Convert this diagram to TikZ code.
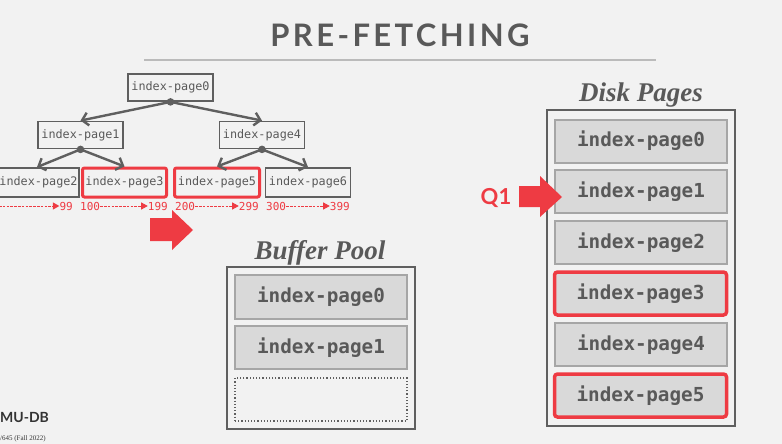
\documentclass[tikz,border=0pt]{standalone}
\usepackage{fontspec}
\setmainfont{Liberation Serif}
\newfontfamily\monof{DejaVu Sans Mono}
\newfontfamily\latof{Lato}
\newfontfamily\titlef[LetterSpace=11]{Lato}
\usetikzlibrary{arrows.meta}
\definecolor{bg}{HTML}{F2F2F2}
\definecolor{txt}{HTML}{595959}
\definecolor{edgec}{HTML}{5F5F5F}
\definecolor{hl}{HTML}{EE3B43}
\definecolor{slotfill}{HTML}{D9D9D9}
\definecolor{slotline}{HTML}{A6A6A6}
\definecolor{rulec}{HTML}{BBBBBB}
\tikzset{
  treebox/.style={draw=edgec, line width=1.8pt, fill=bg, minimum width=85pt, minimum height=27pt, inner sep=0pt,
    font=\monof\fontsize{11.8}{12}\selectfont, text=txt},
  treehl/.style={treebox, draw=hl, line width=3pt, rounded corners=2pt},
  treearrow/.style={draw=edgec, line width=2.4pt, -{Straight Barb[length=6pt,width=13pt,line width=2.4pt]}},
  rangetxt/.style={inner sep=0pt, text=hl, font=\monof\fontsize{11}{12}\selectfont},
  rangearrow/.style={draw=hl, line width=0.9pt, dash pattern=on 2.5pt off 1.3pt, -{Triangle[length=6.5pt,width=7pt]}},
  slotbox/.style={draw=slotline, line width=2pt, fill=slotfill, minimum width=172pt, minimum height=43pt, inner sep=0pt,
    font=\monof\bfseries\fontsize{19.3}{20}\selectfont, text=txt},
  slothl/.style={slotbox, draw=hl, line width=3.5pt, rounded corners=3pt},
  emptyslot/.style={draw=edgec, line width=1.2pt, dotted, minimum width=172pt, minimum height=43pt, inner sep=0pt},
  poolbox/.style={draw=edgec, line width=2pt, inner sep=0pt},
  sectitle/.style={anchor=base, inner sep=0pt, text=txt, font=\bfseries\itshape\fontsize{27}{30}\selectfont},
  bigarrow/.style={fill=hl},
}
\begin{document}
\begin{tikzpicture}[x=1pt,y=-1pt]
\useasboundingbox (0,0) rectangle (782,444);
\fill[bg] (0,0) rectangle (782,444);
% title
\node[anchor=base, inner sep=0pt, text=txt, font=\titlef\bfseries\fontsize{31}{34}\selectfont] (title) at (400,47) {PRE-FETCHING};
\draw[rulec, line width=1.5pt] (144,60) -- (656,60);
% tree
\node[treebox] (p0) at (170.5,87.5) {index-page0};
\node[treebox] (p1) at (80.5,135) {index-page1};
\node[treebox] (p4) at (262,135) {index-page4};
\node[treebox, minimum height=29pt, minimum width=81pt] (p2) at (38.5,182.5) {index-page2};
\node[treehl, minimum height=29pt, minimum width=84pt] (p3) at (124.5,182.5) {index-page3};
\node[treehl, minimum height=29pt, minimum width=85pt] (p5) at (217,182.5) {index-page5};
\node[treebox, minimum height=29pt] (p6) at (308,182.5) {index-page6};
\draw[treearrow] (p0.south) -- (p1.north);
\draw[treearrow] (p0.south) -- (p4.north);
\draw[treearrow] (p1.south) -- ([xshift=-1.5pt]p2.north);
\draw[treearrow] (p1.south) -- (p3.north);
\draw[treearrow] (p4.south) -- (p5.north);
\draw[treearrow] (p4.south) -- (p6.north);
\fill[edgec] (p0.south) circle (3.8);
\fill[edgec] (p1.south) circle (3.8);
\fill[edgec] (p4.south) circle (3.8);
% ranges
\coordinate (r1s) at (-1,206);
\node[rangetxt, anchor=east] (r1e) at (73,206) {99};
\node[rangetxt, anchor=west] (r2s) at (80,206) {100};
\node[rangetxt, anchor=east] (r2e) at (168,206) {199};
\node[rangetxt, anchor=west] (r3s) at (175,206) {200};
\node[rangetxt, anchor=east] (r3e) at (259,206) {299};
\node[rangetxt, anchor=west] (r4s) at (266,206) {300};
\node[rangetxt, anchor=east] (r4e) at (350,206) {399};
\draw[rangearrow] (r1s) -- (r1e.west);
\draw[rangearrow] (r2s.east) -- (r2e.west);
\draw[rangearrow] (r3s.east) -- (r3e.west);
\draw[rangearrow] (r4s.east) -- (r4e.west);
% big arrow to buffer pool
\fill[bigarrow] (150,218) -- (172,218) -- (172,210) -- (193,230) -- (172,250) -- (172,241) -- (150,241) -- cycle;
% buffer pool
\node[sectitle] (bptitle) at (320,259) {Buffer Pool};
\draw[poolbox] (227,267) rectangle (415,429);
\node[slotbox, minimum height=44pt] (b0) at (321,297) {index-page0};
\node[slotbox] (b1) at (321,347.5) {index-page1};
\node[emptyslot] (b2) at (321,399.5) {};
% disk pages
\node[sectitle] (dptitle) at (641,102) {Disk Pages};
\draw[poolbox] (547,110) rectangle (735,426);
\node[slotbox] (d0) at (641,141) {index-page0};
\node[slotbox] (d1) at (641,191.5) {index-page1};
\node[slotbox] (d2) at (641,242.5) {index-page2};
\node[slothl] (d3) at (640.5,293.5) {index-page3};
\node[slotbox] (d4) at (641,344.5) {index-page4};
\node[slothl] (d5) at (640.5,395.5) {index-page5};
% Q1
\node[inner sep=0pt, text=hl, font=\latof\bfseries\fontsize{22}{24}\selectfont] (q1) at (496,198) {Q1};
\fill[bigarrow] (519,186) -- (540,186) -- (540,176) -- (562,197) -- (540,217) -- (540,207) -- (519,207) -- cycle;
% footer
\node[anchor=base west, inner sep=0pt, text=black!80, font=\latof\bfseries\fontsize{14}{15}\selectfont] (ft1) at (0,422) {MU-DB};
\node[anchor=base west, inner sep=0pt, text=black!80, font=\fontsize{7}{8}\selectfont] (ft2) at (0,440) {/645 (Fall 2022)};
\end{tikzpicture}
\end{document}
